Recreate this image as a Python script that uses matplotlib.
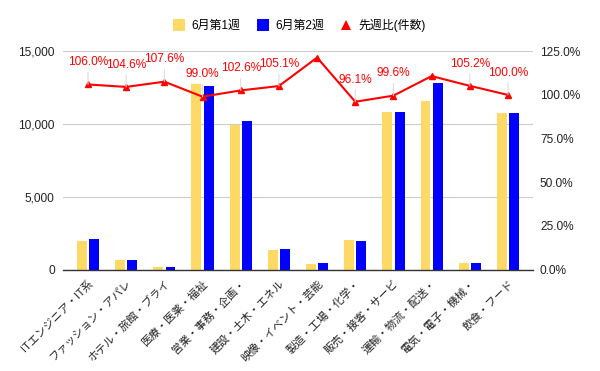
import matplotlib
matplotlib.use("Agg")
import matplotlib.pyplot as plt
from matplotlib.lines import Line2D
from matplotlib.ticker import PercentFormatter, StrMethodFormatter, FixedLocator
import numpy as np

plt.rcParams['font.family'] = ['Liberation Sans', 'Noto Sans CJK JP', 'DejaVu Sans']

categories = ["ITエンジニア・IT系", "ファッション・アパレ", "ホテル・旅館・ブライ", "医療・医薬・福祉",
              "営業・事務・企画・", "建設・土木・エネル", "映像・イベント・芸能", "製造・工場・化学・",
              "販売・接客・サービ", "運輸・物流・配送・", "電気・電子・機械・", "飲食・フード"]
week1 = [1960, 625, 150, 12750, 9950, 1330, 360, 2020, 10860, 11580, 420, 10740]
week2 = [2078, 654, 161, 12623, 10209, 1398, 437, 1941, 10817, 12830, 442, 10740]
ratio = [1.060, 1.046, 1.076, 0.990, 1.026, 1.051, 1.214, 0.961, 0.996, 1.108, 1.052, 1.000]
show_label = [True, True, True, True, True, True, False, True, True, False, True, True]
series_names = ["6月第1週", "6月第2週", "先週比(件数)"]
left_ticks = [0, 5000, 10000, 15000]
right_ticks = [0, 0.25, 0.5, 0.75, 1.0, 1.25]

YELLOW = "#FFD966"
BLUE = "#0000FF"
RED = "#FF0000"
FS = 8.6

fig = plt.figure(figsize=(6.0, 3.71), dpi=100)
ax = fig.add_axes([63/600, 1-269.5/371, (533-63)/600, (269.5-51.3)/371])
ax2 = ax.twinx()

x = np.arange(len(categories))
bw = 0.26
off = 0.16
ax.bar(x - off, week1, width=bw, color=YELLOW, zorder=2)
ax.bar(x + off, week2, width=bw, color=BLUE, zorder=2)

ax.set_xlim(-0.655, len(categories) - 1 + 0.655)
ax.set_ylim(0, 15000)
ax.yaxis.set_major_locator(FixedLocator(left_ticks))
ax.yaxis.set_major_formatter(StrMethodFormatter('{x:,.0f}'))
ax.yaxis.grid(True, color='#cccccc', lw=0.8)
ax.set_axisbelow(True)
for s in ['top', 'left', 'right']:
    ax.spines[s].set_visible(False)
    ax2.spines[s].set_visible(False)
ax.spines['bottom'].set_color('#333333')
ax.spines['bottom'].set_linewidth(1.0)
ax2.spines['bottom'].set_visible(False)

ax.set_xticks(x)
ax.set_xticklabels(categories, rotation=45, ha='right', va='top', rotation_mode='anchor')
ax.tick_params(axis='x', length=0, pad=6, labelsize=7.9, colors='#222222')
ax.tick_params(axis='y', length=0, pad=6, labelsize=FS, colors='#222222')

ax2.set_ylim(0, 1.25)
ax2.yaxis.set_major_locator(FixedLocator(right_ticks))
ax2.yaxis.set_major_formatter(PercentFormatter(1.0, decimals=1))
ax2.tick_params(axis='y', length=0, pad=5, labelsize=FS, colors='#222222')

ax2.plot(x, ratio, color=RED, lw=1.5, marker='^', markersize=4, zorder=3)
for i, (r, sh) in enumerate(zip(ratio, show_label)):
    if sh:
        ax2.annotate(f"{r*100:.1f}%", xy=(i, r), xytext=(0, 16), textcoords='offset points',
                     ha='center', va='center', color=RED, fontsize=FS,
                     arrowprops=dict(arrowstyle='-', color='#dddddd', lw=0.8, shrinkA=1, shrinkB=0))

handles = [Line2D([], [], ls='none', marker='s', markersize=8, markerfacecolor=YELLOW, markeredgewidth=0),
           Line2D([], [], ls='none', marker='s', markersize=8, markerfacecolor=BLUE, markeredgewidth=0),
           Line2D([], [], ls='none', marker='^', markersize=7, markerfacecolor=RED, markeredgewidth=0)]
fig.legend(handles, series_names, loc='center', bbox_to_anchor=(0.5, 1-25.5/371), ncol=3,
           frameon=False, fontsize=FS, handlelength=0.9, handletextpad=0.6, columnspacing=1.4)

fig.savefig("out.png", dpi=100)
